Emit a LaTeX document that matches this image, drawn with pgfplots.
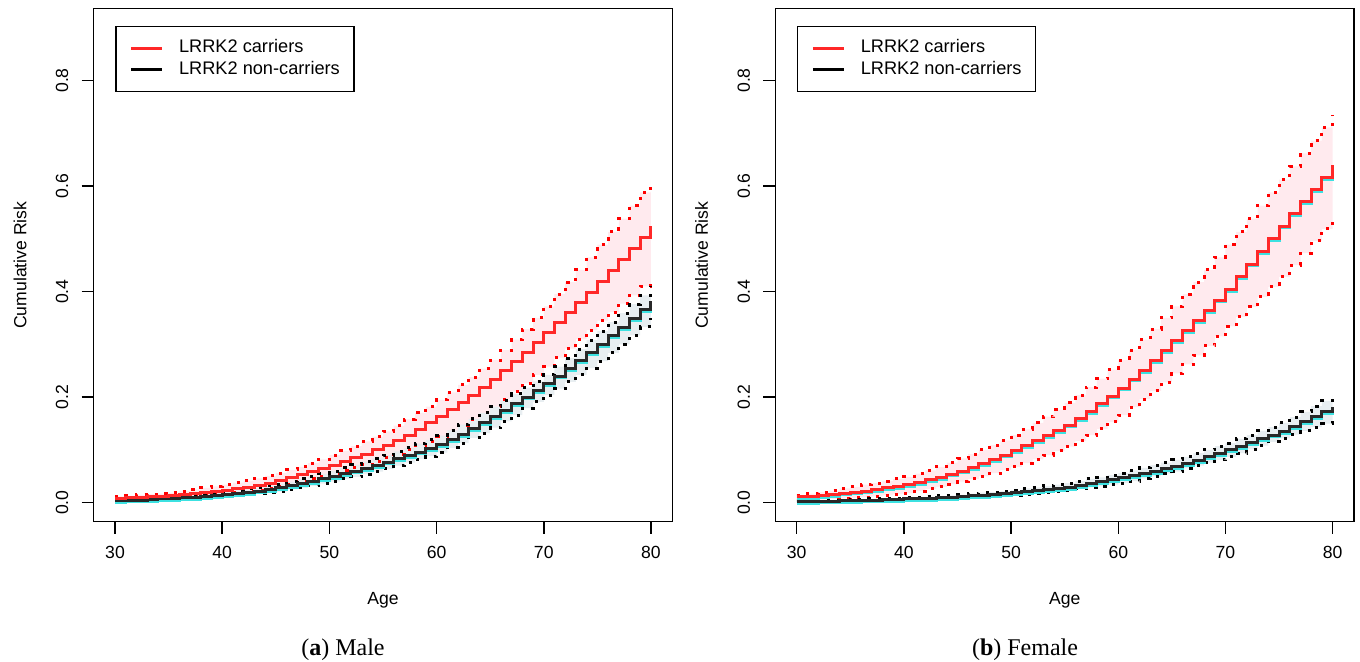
\documentclass[border=0pt]{standalone}
\usepackage{fontspec}
\setmainfont{Liberation Sans}
\newfontfamily\capserif{Liberation Serif}
\usepackage{pgfplots}
\pgfplotsset{compat=1.18}
\usepackage{pgfplotstable}
\usepgfplotslibrary{fillbetween}

\definecolor{lred}{RGB}{255,40,40}
\definecolor{dred}{RGB}{255,0,0}
\definecolor{lblack}{RGB}{40,40,40}
\definecolor{pinkfill}{RGB}{255,234,238}
\definecolor{greyfill}{RGB}{226,234,238}
\definecolor{lcyan}{RGB}{60,225,225}

% age, carrier est/lower/upper, non-carrier est/lower/upper
\pgfplotstableread{
age cest clo chi nest nlo nhi
30 0.008 0.005 0.012 0.004 0.002 0.006
31 0.009 0.006 0.013 0.005 0.003 0.007
32 0.010 0.007 0.015 0.005 0.003 0.008
33 0.011 0.007 0.016 0.006 0.004 0.009
34 0.012 0.008 0.017 0.007 0.004 0.010
35 0.013 0.009 0.019 0.008 0.005 0.011
36 0.015 0.010 0.022 0.009 0.006 0.013
37 0.017 0.012 0.025 0.010 0.007 0.014
38 0.019 0.013 0.028 0.012 0.008 0.016
39 0.021 0.015 0.031 0.013 0.010 0.018
40 0.023 0.016 0.034 0.015 0.011 0.020
41 0.026 0.019 0.038 0.017 0.013 0.023
42 0.029 0.021 0.042 0.019 0.015 0.026
43 0.033 0.024 0.046 0.022 0.017 0.029
44 0.037 0.027 0.051 0.025 0.019 0.032
45 0.042 0.031 0.056 0.028 0.021 0.035
46 0.047 0.035 0.062 0.032 0.025 0.040
47 0.053 0.040 0.068 0.036 0.028 0.045
48 0.059 0.045 0.075 0.040 0.032 0.050
49 0.065 0.050 0.082 0.045 0.036 0.055
50 0.071 0.055 0.090 0.050 0.040 0.060
51 0.078 0.061 0.098 0.055 0.045 0.066
52 0.085 0.066 0.107 0.060 0.049 0.072
53 0.092 0.072 0.116 0.065 0.054 0.078
54 0.100 0.078 0.125 0.071 0.059 0.084
55 0.108 0.085 0.135 0.077 0.064 0.090
56 0.118 0.092 0.146 0.083 0.070 0.097
57 0.128 0.100 0.158 0.089 0.076 0.104
58 0.139 0.108 0.170 0.096 0.082 0.112
59 0.151 0.116 0.182 0.103 0.088 0.119
60 0.163 0.125 0.195 0.110 0.095 0.127
61 0.176 0.136 0.209 0.119 0.104 0.137
62 0.189 0.147 0.223 0.129 0.113 0.148
63 0.203 0.158 0.238 0.140 0.123 0.159
64 0.218 0.170 0.254 0.151 0.132 0.170
65 0.233 0.182 0.270 0.163 0.142 0.182
66 0.250 0.196 0.289 0.175 0.154 0.194
67 0.267 0.211 0.309 0.187 0.166 0.206
68 0.285 0.226 0.329 0.200 0.179 0.218
69 0.303 0.242 0.350 0.213 0.191 0.230
70 0.322 0.258 0.372 0.226 0.204 0.242
71 0.341 0.275 0.395 0.240 0.216 0.258
72 0.360 0.292 0.418 0.254 0.229 0.274
73 0.379 0.310 0.441 0.269 0.242 0.291
74 0.399 0.327 0.465 0.284 0.255 0.308
75 0.419 0.345 0.489 0.300 0.268 0.325
76 0.440 0.361 0.513 0.316 0.284 0.342
77 0.461 0.377 0.538 0.332 0.300 0.359
78 0.482 0.393 0.563 0.349 0.317 0.376
79 0.503 0.410 0.588 0.366 0.333 0.393
80 0.525 0.426 0.612 0.383 0.350 0.410
}\male

\pgfplotstableread{
age cest clo chi nest nlo nhi
30 0.011 0.005 0.014 0.002 0.001 0.003
31 0.012 0.006 0.017 0.002 0.001 0.004
32 0.014 0.006 0.020 0.003 0.002 0.004
33 0.016 0.007 0.023 0.003 0.002 0.005
34 0.018 0.008 0.027 0.004 0.003 0.005
35 0.020 0.009 0.030 0.004 0.003 0.006
36 0.022 0.010 0.034 0.005 0.003 0.007
37 0.025 0.012 0.037 0.005 0.004 0.007
38 0.028 0.014 0.041 0.006 0.004 0.008
39 0.031 0.016 0.045 0.006 0.005 0.008
40 0.034 0.018 0.049 0.007 0.005 0.009
41 0.038 0.022 0.055 0.008 0.006 0.010
42 0.043 0.026 0.061 0.008 0.006 0.011
43 0.048 0.030 0.068 0.009 0.007 0.013
44 0.054 0.035 0.076 0.010 0.007 0.014
45 0.060 0.040 0.084 0.011 0.008 0.015
46 0.067 0.045 0.092 0.013 0.009 0.017
47 0.074 0.050 0.100 0.014 0.010 0.019
48 0.082 0.056 0.109 0.016 0.012 0.020
49 0.090 0.062 0.118 0.017 0.013 0.022
50 0.099 0.068 0.128 0.019 0.014 0.024
51 0.108 0.075 0.139 0.021 0.016 0.027
52 0.117 0.082 0.151 0.023 0.018 0.029
53 0.127 0.090 0.163 0.025 0.019 0.032
54 0.137 0.098 0.176 0.027 0.021 0.034
55 0.147 0.106 0.189 0.029 0.023 0.037
56 0.160 0.117 0.204 0.033 0.026 0.041
57 0.173 0.128 0.219 0.036 0.029 0.045
58 0.187 0.140 0.235 0.040 0.031 0.048
59 0.202 0.153 0.252 0.043 0.034 0.052
60 0.217 0.166 0.270 0.047 0.037 0.056
61 0.234 0.181 0.289 0.051 0.041 0.061
62 0.251 0.196 0.309 0.055 0.046 0.066
63 0.269 0.212 0.329 0.059 0.050 0.071
64 0.288 0.228 0.350 0.064 0.055 0.076
65 0.307 0.245 0.372 0.068 0.059 0.081
66 0.326 0.262 0.395 0.074 0.065 0.087
67 0.345 0.279 0.418 0.080 0.070 0.094
68 0.364 0.297 0.441 0.087 0.076 0.100
69 0.384 0.315 0.465 0.093 0.081 0.107
70 0.404 0.334 0.489 0.100 0.087 0.113
71 0.428 0.352 0.513 0.107 0.094 0.121
72 0.452 0.371 0.538 0.114 0.101 0.128
73 0.476 0.390 0.563 0.121 0.108 0.136
74 0.500 0.409 0.588 0.128 0.115 0.143
75 0.524 0.428 0.612 0.135 0.122 0.151
76 0.547 0.450 0.637 0.144 0.129 0.162
77 0.570 0.473 0.662 0.153 0.136 0.172
78 0.593 0.496 0.686 0.163 0.143 0.183
79 0.616 0.519 0.711 0.172 0.150 0.193
80 0.640 0.542 0.735 0.182 0.157 0.204
}\female

\pgfplotsset{
  riskaxis/.style={
    scale only axis, width=289.4pt, height=256.5pt,
    xmin=28, xmax=82, ymin=-0.036, ymax=0.936,
    xtick={30,40,50,60,70,80}, ytick={0,0.2,0.4,0.6,0.8},
    xtick pos=bottom, ytick pos=left, tick align=outside,
    major tick length=6pt,
    every tick/.style={black, line width=0.75pt},
    axis line style={black, line width=0.75pt},
    tick label style={font=\fontsize{8.8}{10}\selectfont, inner sep=0pt},
    /pgf/number format/assume math mode=true,
    xticklabel style={anchor=center},
    xticklabel shift=9.6pt,
    yticklabel style={rotate=90, anchor=center, /pgf/number format/fixed, /pgf/number format/fixed zerofill, /pgf/number format/precision=1},
    yticklabel shift=9.8pt,
    label style={font=\fontsize{8.8}{10}\selectfont, inner sep=0pt},
    xlabel={Age}, ylabel={Cumulative Risk},
    x label style={at={(axis description cs:0.5,0)}, anchor=center, yshift=-39.2pt},
    y label style={at={(axis description cs:0,0.5)}, anchor=center, yshift=36.8pt},
    legend image code/.code={\draw[##1] (0pt,0pt) -- (15.5pt,0pt);},
    legend cell align=left,
    legend style={at={(rel axis cs:0,1)}, anchor=north west, xshift=10.7pt, yshift=-8.65pt,
      draw=black, line width=0.75pt, fill=white, inner xsep=7pt, inner ysep=6.5pt,
      row sep=2.35pt, font=\fontsize{9.1}{11}\selectfont,
      nodes={inner sep=0pt, text height=6.6pt, text depth=1.9pt},
      /tikz/every odd column/.append style={column sep=7.65pt}},
    dotline/.style={const plot, line width=1.5pt, dash pattern=on 1.6pt off 3.6pt, forget plot},
    mainline/.style={const plot, line width=1.5pt, forget plot},
  }
}

\begin{document}
\begin{tikzpicture}

% ---------- (a) Male ----------
\begin{axis}[riskaxis, at={(46.8pt,70.15pt)}, anchor=south west]
\addplot[draw=none, const plot, name path=mchi, forget plot] table[x=age,y=chi]{\male};
\addplot[draw=none, const plot, name path=mclo, forget plot] table[x=age,y=clo]{\male};
\addplot[draw=none, const plot, name path=mnhi, forget plot] table[x=age,y=nhi]{\male};
\addplot[draw=none, const plot, name path=mnlo, forget plot] table[x=age,y=nlo]{\male};
\addplot[pinkfill, forget plot] fill between[of=mchi and mclo];
\addplot[greyfill, fill opacity=0.8, forget plot] fill between[of=mnhi and mnlo];
\addplot[dotline, dred] table[x=age,y=chi]{\male};
\addplot[dotline, dred] table[x=age,y=clo]{\male};
\addplot[dotline, black] table[x=age,y=nhi]{\male};
\addplot[dotline, black] table[x=age,y=nlo]{\male};
\addplot[mainline, lcyan, yshift=-0.9pt] table[x=age,y=nest]{\male};
\addplot[mainline, lblack] table[x=age,y=nest]{\male};
\addplot[mainline, lred] table[x=age,y=cest]{\male};
\addlegendimage{lred, line width=1.5pt}
\addlegendentry{LRRK2 carriers}
\addlegendimage{black, line width=1.5pt}
\addlegendentry{LRRK2 non-carriers}
\end{axis}

% ---------- (b) Female ----------
\begin{axis}[riskaxis, at={(387.65pt,70.15pt)}, anchor=south west]
\addplot[draw=none, const plot, name path=fchi, forget plot] table[x=age,y=chi]{\female};
\addplot[draw=none, const plot, name path=fclo, forget plot] table[x=age,y=clo]{\female};
\addplot[draw=none, const plot, name path=fnhi, forget plot] table[x=age,y=nhi]{\female};
\addplot[draw=none, const plot, name path=fnlo, forget plot] table[x=age,y=nlo]{\female};
\addplot[pinkfill, forget plot] fill between[of=fchi and fclo];
\addplot[greyfill, fill opacity=0.8, forget plot] fill between[of=fnhi and fnlo];
\addplot[dotline, dred] table[x=age,y=chi]{\female};
\addplot[dotline, dred] table[x=age,y=clo]{\female};
\addplot[dotline, black] table[x=age,y=nhi]{\female};
\addplot[dotline, black] table[x=age,y=nlo]{\female};
\addplot[mainline, lcyan, yshift=-0.9pt] table[x=age,y=nest]{\female};
\addplot[mainline, lblack] table[x=age,y=nest]{\female};
\addplot[mainline, lcyan, yshift=-0.9pt] table[x=age,y=cest]{\female};
\addplot[mainline, lred] table[x=age,y=cest]{\female};
\addlegendimage{lred, line width=1.5pt}
\addlegendentry{LRRK2 carriers}
\addlegendimage{black, line width=1.5pt}
\addlegendentry{LRRK2 non-carriers}
\end{axis}

\node[font=\capserif\fontsize{12}{14}\selectfont, anchor=base] at (171.5pt,3pt) {(\textbf{a}) Male};
\node[font=\capserif\fontsize{12}{14}\selectfont, anchor=base] at (512.5pt,3pt) {(\textbf{b}) Female};
\pgfresetboundingbox
\path[use as bounding box] (0,0) rectangle (680pt,331pt);
\end{tikzpicture}
\end{document}
